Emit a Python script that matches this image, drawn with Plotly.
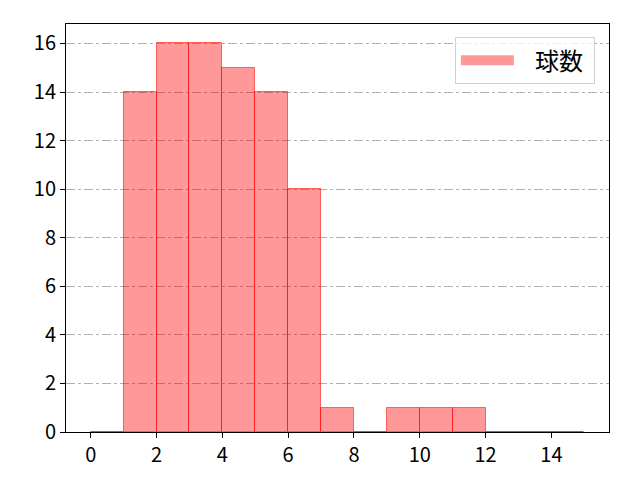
import plotly.graph_objects as go

# bins of width 1 starting at 0
bin_left = [0, 1, 2, 3, 4, 5, 6, 7, 8, 9, 10, 11, 12, 13, 14]
counts = [0, 14, 16, 16, 15, 14, 10, 1, 0, 1, 1, 1, 0, 0, 0]
x_ticks = [0, 2, 4, 6, 8, 10, 12, 14]
y_ticks = [0, 2, 4, 6, 8, 10, 12, 14, 16]

fig = go.Figure()
fig.add_trace(
    go.Bar(
        x=[b + 0.5 for b in bin_left],
        y=counts,
        width=1,
        name="球数",
        marker=dict(color="rgba(255,0,0,0.4)", line=dict(color="rgba(255,0,0,0.55)", width=1)),
        showlegend=False,
    )
)
# legend entry drawn as a wide swatch, like matplotlib's patch
fig.add_trace(
    go.Scatter(
        x=[None],
        y=[None],
        mode="lines",
        name="\u00a0\u00a0\u00a0球数\u00a0",
        line=dict(color="rgba(255,0,0,0.4)", width=19),
    )
)

fig.update_layout(
    width=640,
    height=480,
    margin=dict(l=66, r=31, t=24, b=48),
    plot_bgcolor="white",
    paper_bgcolor="white",
    font=dict(family="Noto Sans CJK JP", size=20, color="black"),
    bargap=0,
    xaxis=dict(
        range=[-0.75, 15.75],
        tickvals=x_ticks,
        ticks="outside",
        ticklen=5,
        tickcolor="black",
        showline=True,
        linecolor="black",
        mirror=True,
        showgrid=False,
        zeroline=False,
        automargin=False,
    ),
    yaxis=dict(
        range=[0, 16.8],
        tickvals=y_ticks,
        ticks="outside",
        ticklen=5,
        tickcolor="black",
        showline=True,
        linecolor="black",
        mirror=True,
        showgrid=True,
        gridcolor="#b0b0b0",
        griddash="dashdot",
        gridwidth=1,
        zeroline=False,
        automargin=False,
    ),
    legend=dict(
        x=0.974,
        y=0.968,
        xanchor="right",
        yanchor="top",
        bordercolor="#d0d0d0",
        borderwidth=1,
        bgcolor="rgba(255,255,255,0.8)",
        font=dict(size=24),
        itemwidth=53,
    ),
)

fig.write_html(
    "out.html",
    config={"displayModeBar": False},
    post_script="document.body.style.margin='0';",
)
